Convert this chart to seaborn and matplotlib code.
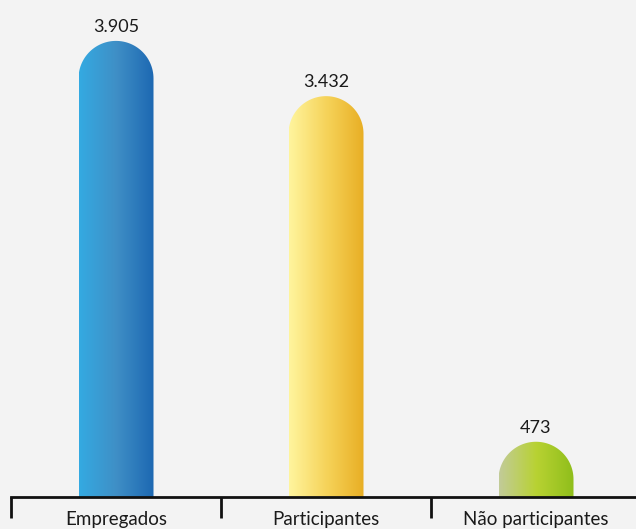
import matplotlib
matplotlib.use("Agg")
import matplotlib.pyplot as plt
import seaborn as sns
import numpy as np
import pandas as pd
from matplotlib.path import Path
from matplotlib.patches import PathPatch
from matplotlib.colors import LinearSegmentedColormap

# Data
categories = ["Empregados", "Participantes", "Não participantes"]
values = [3905, 3432, 473]
value_labels = ["3.905", "3.432", "473"]

# horizontal gradient colours per bar (left -> right)
gradients = [
    ["#34aae2", "#3f8fc6", "#1d68b2"],
    ["#fff59e", "#f6d35a", "#e8ae24"],
    ["#c2cb99", "#b8d232", "#8fbe1b"],
]

sns.set_style("white")
plt.rcParams["font.family"] = ["Lato", "DejaVu Sans"]

W, H = 636, 529
fig = plt.figure(figsize=(W / 100, H / 100), dpi=100)
fig.patch.set_facecolor("#f3f3f3")
ax = fig.add_axes([11 / W, 32 / H, 630 / W, 497 / H])
ax.set_facecolor("none")

df = pd.DataFrame({"cat": categories, "val": values})
sns.barplot(data=df, x="cat", y="val", ax=ax, width=75 / 210, color="#888888")
ax.set_xlim(-0.5, 2.5)
ax.set_ylim(0, 497 / 0.1168)

px_per_unit = 497 / (497 / 0.1168)
radius_px = 37.5
ry = radius_px / px_per_unit

for bar, cols, lab in zip(ax.patches, gradients, value_labels):
    x0 = bar.get_x()
    w = bar.get_width()
    h = bar.get_height()
    bar.set_visible(False)
    rx = w / 2
    cx = x0 + rx
    t = np.linspace(0, np.pi, 60)
    arc_x = cx + rx * np.cos(t)
    arc_y = h - ry + ry * np.sin(t)
    verts = [(x0 + w, 0)] + list(zip(arc_x, arc_y)) + [(x0, 0), (x0 + w, 0)]
    codes = [Path.MOVETO] + [Path.LINETO] * (len(verts) - 2) + [Path.CLOSEPOLY]
    patch = PathPatch(Path(verts, codes), facecolor="none", edgecolor="none")
    ax.add_patch(patch)
    cmap = LinearSegmentedColormap.from_list("g", cols)
    grad = np.linspace(0, 1, 256).reshape(1, -1)
    im = ax.imshow(grad, cmap=cmap, extent=[x0, x0 + w, 0, h], aspect="auto",
                   interpolation="bicubic", zorder=2)
    im.set_clip_path(patch)
    ax.text(cx, h + 14 / px_per_unit, lab, ha="center", va="center",
            fontsize=13, color="#1a1a1a")

# axis with category separators
ax.set_xlim(-0.5, 2.5)
ax.set_ylim(0, 497 / 0.1168)
for s in ["top", "right", "left"]:
    ax.spines[s].set_visible(False)
ax.spines["bottom"].set_linewidth(2)
ax.spines["bottom"].set_color("#111111")
ax.set_yticks([])
ax.set_xticks(range(len(categories)))
ax.set_xticklabels(categories)
ax.set_xticks([-0.5, 0.5, 1.5], minor=True)
ax.tick_params(axis="x", which="minor", bottom=True, length=15, width=2,
               color="#111111", direction="out")
ax.tick_params(axis="x", which="major", bottom=False, length=0, pad=10,
               labelsize=13.5, labelcolor="#1a1a1a")
ax.set_xlabel("")
ax.set_ylabel("")

fig.savefig("out.png", dpi=100, facecolor=fig.get_facecolor())
